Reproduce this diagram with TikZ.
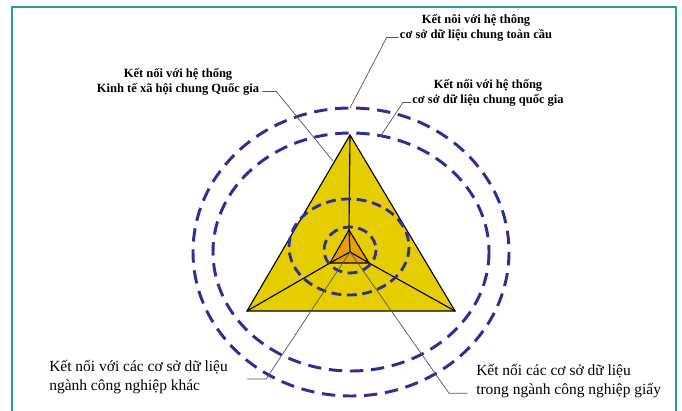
\documentclass[tikz,border=0pt]{standalone}
\usepackage{fontspec}
\setmainfont{Liberation Serif}
\usetikzlibrary{calc}
\definecolor{framecol}{HTML}{2A9CA3}
\definecolor{ringcol}{HTML}{2E2E96}
\definecolor{faceyellow}{HTML}{E6CD00}
\definecolor{coreorange}{HTML}{E8A000}
\definecolor{leadcol}{HTML}{555555}
\begin{document}
\begin{tikzpicture}[x=0.025cm, y=-0.025cm,
    ring/.style={ringcol, line width=2.1pt, dash pattern=on 9.5pt off 5.5pt},
    smallring/.style={ringcol, line width=2pt, dash pattern=on 7pt off 4pt},
    leader/.style={leadcol, line width=0.5pt},
    toplabel/.style={font=\bfseries\fontsize{8.9}{10.3}\selectfont, align=center, inner sep=0pt},
    botlabel/.style={font=\fontsize{11}{13.8}\selectfont, align=left, inner sep=0pt, anchor=west}]
    \useasboundingbox (0,0) rectangle (682,411);

    % Frame
    \draw[framecol, line width=1pt] (12,411) -- (12,7) -- (676,7) -- (676,411);

    % Big triangle and inner pyramid
    \coordinate (A) at (350,135);
    \coordinate (B) at (247,311);
    \coordinate (C) at (455,311);
    \coordinate (a) at (349,230);
    \coordinate (b) at (330,263);
    \coordinate (c) at (369,263);
    \coordinate (o) at (350,252);
    \draw[thick, fill=faceyellow] (A) -- (B) -- (C) -- cycle;
    \draw[thick] (A) -- (a) (B) -- (b) (C) -- (c);
    \draw[thick, fill=coreorange] (a) -- (b) -- (c) -- cycle;
    \draw[thick] (o) -- (a) (o) -- (b) (o) -- (c);

    % Rings
    \draw[ring] (351,252) ellipse [x radius=158, y radius=144];
    \draw[ring] (351,252) ellipse [x radius=138, y radius=119];
    \draw[smallring] (349,247) ellipse [x radius=60, y radius=48];
    \draw[smallring] (350,250) ellipse [x radius=26, y radius=23];

    % Labels
    \node[toplabel] (glob) at (476,28) {Kết nôi với hệ thông\\cơ sở dữ liệu chung toàn cầu};
    \node[toplabel] (natl) at (488,93) {Kết nối với hệ thống\\cơ sở dữ liệu chung quốc gia};
    \node[toplabel] (econ) at (178,82) {Kết nối với hệ thống\\Kinh tế xã hội chung Quốc gia};
    \node[botlabel] (other) at (49,377) {Kết nối với các cơ sở dữ liệu\\ngành công nghiệp khác};
    \node[botlabel] (paper) at (476,381) {Kết nối các cơ sở dữ liệu\\trong ngành công nghiệp giấy};

    % Leader lines
    \coordinate (globend) at (350,108);
    \coordinate (natlend) at (380,137);
    \coordinate (econend) at (333,161);
    \draw[leader] ($(glob.south west)+(-1,-4)$) -- ++(-12,0) -- (globend);
    \draw[leader] ($(natl.south west)+(-1,-4)$) -- ++(-8,0) -- (natlend);
    \draw[leader] ($(econ.south east)+(3,-4)$) -- ++(14,0) -- (econend);
    \draw[leader] ($(other.east)+(19,2)$) -- ++(19,0) -- (o);
    \draw[leader] ($(paper.south west)+(-9,-5)$) -- ++(-18,0) -- (o);
\end{tikzpicture}
\end{document}
